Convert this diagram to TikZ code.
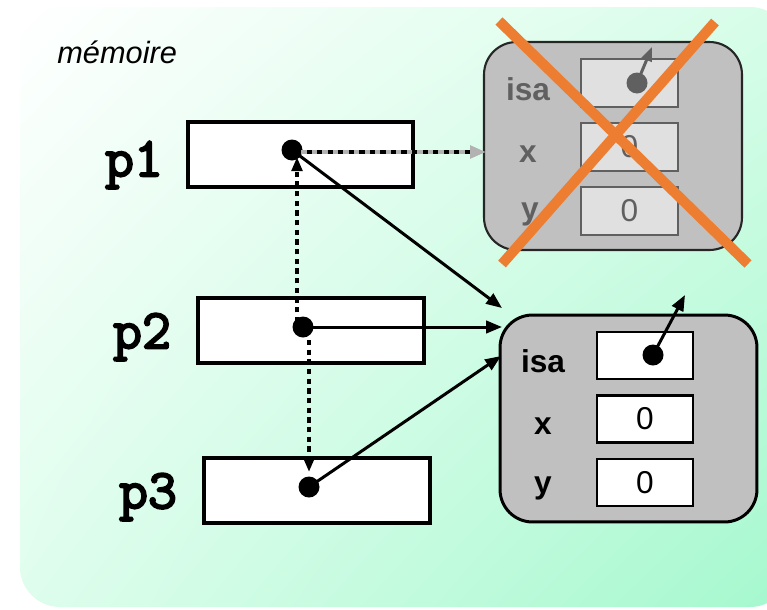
\documentclass[tikz,border=0pt]{standalone}
\usepackage{fontspec}
\setmainfont{Liberation Sans}
\newfontfamily\pmono[FakeBold=3.5]{Latin Modern Mono}
\usetikzlibrary{arrows.meta,shadings}
\definecolor{bggreen}{RGB}{164,248,206}
\definecolor{bgmid}{RGB}{214,253,232}
\definecolor{objgray}{RGB}{192,192,192}
\definecolor{oldtext}{RGB}{96,96,96}
\definecolor{oldfield}{RGB}{224,224,224}
\definecolor{crossorange}{RGB}{237,125,49}
\tikzset{
  ptrbox/.style={draw=black, line width=2.3pt, fill=white, minimum width=4.5cm, minimum height=1.3cm, inner sep=0pt},
  ptrlabel/.style={font=\pmono\fontsize{32}{32}\selectfont, inner sep=0pt},
  objbox/.style={draw=black, line width=1.7pt, fill=objgray, rounded corners=0.65cm, minimum width=5.14cm, minimum height=4.14cm, inner sep=0pt},
  oldobjbox/.style={draw=black!85, line width=1.2pt, fill=objgray, rounded corners=0.65cm, minimum width=5.16cm, minimum height=4.16cm, inner sep=0pt},
  fieldbox/.style={draw=black, line width=1.2pt, fill=white, minimum width=1.92cm, minimum height=0.94cm, inner sep=0pt, font=\fontsize{18}{18}\selectfont},
  oldfieldbox/.style={draw=oldtext, line width=1.2pt, fill=oldfield, minimum width=1.94cm, minimum height=0.96cm, inner sep=0pt, text=oldtext, font=\fontsize{18}{18}\selectfont},
  fieldlabel/.style={font=\bfseries\fontsize{18}{18}\selectfont, inner sep=0pt},
  oldfieldlabel/.style={fieldlabel, text=oldtext},
  ptrdot/.style={circle, fill=black, minimum size=0.42cm, inner sep=0pt},
  olddot/.style={circle, fill=oldtext, minimum size=0.42cm, inner sep=0pt},
  ptrarrow/.style={line width=1.7pt, -{Triangle[length=9pt,width=7pt]}},
  dotarrow/.style={line width=2.2pt, dash pattern=on 3pt off 2.5pt, -{Triangle[length=8pt,width=6pt]}},
  cross/.style={line width=5.8pt, draw=crossorange}
}
\begin{document}
\begin{tikzpicture}[x=0.02cm,y=-0.02cm]
\useasboundingbox (0,0) rectangle (767,609);
% background
\shade[rounded corners=0.8cm, upper left=white, upper right=bgmid, lower left=bgmid!80!white, lower right=bggreen]
  (20,7) rectangle (790,607);
\node[font=\itshape\fontsize{17.5}{17.5}\selectfont, anchor=west, inner sep=0pt] (mem) at (57,52) {mémoire};

% pointer variables
\node[ptrbox] (p1box) at (300.5,154.5) {};
\node[ptrbox, minimum width=4.52cm] (p2box) at (311,330.5) {};
\node[ptrbox, minimum width=4.52cm] (p3box) at (317,490.5) {};
\node[ptrlabel] (p1lab) at (134,165) {p1};
\node[ptrlabel] (p2lab) at (142,337) {p2};
\node[ptrlabel] (p3lab) at (148,497) {p3};

% old object
\node[oldobjbox] (old) at (613,146) {};
\node[oldfieldbox] (oldisa) at (629.5,83) {};
\node[oldfieldbox] (oldx) at (629.5,147) {0};
\node[oldfieldbox] (oldy) at (629.5,211) {0};
\node[oldfieldlabel] (oldisalab) at (528,89) {isa};
\node[oldfieldlabel] (oldxlab) at (528,154) {x};
\node[oldfieldlabel] (oldylab) at (530,214) {y};
\node[olddot] (olddot) at (637,83) {};
\coordinate (oldisatip) at (652,47);
\draw[line width=1.7pt, draw=oldtext, -{Triangle[length=8pt,width=6pt]}] (olddot.center) -- (oldisatip);

% new object
\node[objbox] (new) at (628.5,418.5) {};
\node[fieldbox] (newisa) at (645,355.5) {};
\node[fieldbox] (newx) at (645,419) {0};
\node[fieldbox] (newy) at (645,482.5) {0};
\node[fieldlabel] (newisalab) at (543,361) {isa};
\node[fieldlabel] (newxlab) at (543,426) {x};
\node[fieldlabel] (newylab) at (543,488) {y};
\node[ptrdot] (newdot) at (653,355) {};
\coordinate (newisatip) at (685,295);
\draw[ptrarrow] (newdot.center) -- (newisatip);

% pointer dots
\node[ptrdot] (d1) at (292,150) {};
\node[ptrdot] (d2) at (303,327) {};
\node[ptrdot] (d3) at (309,487) {};

% tips
\coordinate (t1) at (502,308);
\coordinate (t2) at (502,327);
\coordinate (t3) at (501,356);
\coordinate (told) at (486,152);
\coordinate (d1in) at (297,157);
\coordinate (d2up) at (297,322);
\coordinate (d2dn) at (309,340);
\coordinate (d3in) at (309,472);
\coordinate (d1r) at (296,152);

% p1 -> old object (greyed dotted)
\draw[line width=2.2pt, black, dash pattern=on 3pt off 3pt, shorten >=5pt] (d1r) -- (told);
\draw[line width=2.2pt, draw=black!30, dash pattern=on 3pt off 3pt, dash phase=3pt, -{Triangle[length=9pt,width=7pt,fill=black!30]}] (d1r) -- (told);

% solid references
\draw[ptrarrow] (d1.center) -- (t1);
\draw[ptrarrow] (d2.center) -- (t2);
\draw[ptrarrow] (d3.center) -- (t3);

% dotted history
\draw[dotarrow] (d2up) -- (d1in);
\draw[dotarrow] (d2dn) -- (d3in);

% cross over old object
\coordinate (x1a) at (499,21);
\coordinate (x1b) at (748,264);
\coordinate (x2a) at (715,22);
\coordinate (x2b) at (502,264);
\draw[cross] (x1a) -- (x1b);
\draw[cross] (x2a) -- (x2b);
\end{tikzpicture}
\end{document}
